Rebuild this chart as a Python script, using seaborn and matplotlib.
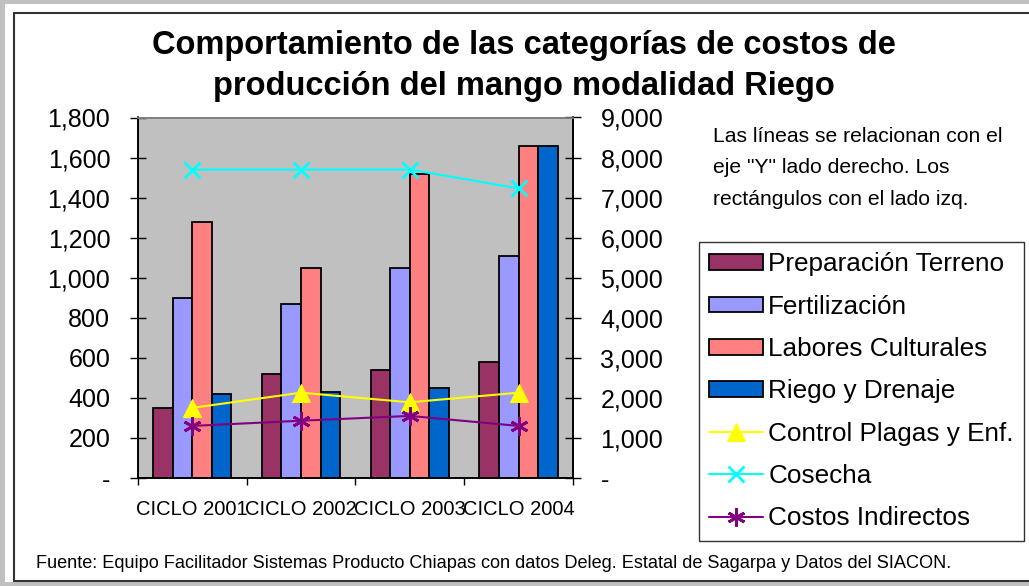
import numpy as np
import pandas as pd
import matplotlib
matplotlib.use("Agg")
import matplotlib.pyplot as plt
import seaborn as sns
from matplotlib.patches import Rectangle, Patch
from matplotlib.ticker import FixedLocator, FixedFormatter

# Datos del gráfico
ciclos = ['CICLO 2001', 'CICLO 2002', 'CICLO 2003', 'CICLO 2004']
preparacion = [350, 520, 540, 580]
fertilizacion = [900, 870, 1050, 1110]
labores = [1280, 1050, 1520, 1660]
riego = [420, 430, 450, 1660]
control_plagas = [1750, 2130, 1890, 2130]
cosecha = [7700, 7700, 7700, 7230]
indirectos = [1300, 1430, 1550, 1300]

bar_series = ['Preparación Terreno', 'Fertilización', 'Labores Culturales', 'Riego y Drenaje']
bar_colors = ['#993366', '#9999FF', '#FF8080', '#0066CC']
left_ticks = [0, 200, 400, 600, 800, 1000, 1200, 1400, 1600, 1800]
right_ticks = [0, 1000, 2000, 3000, 4000, 5000, 6000, 7000, 8000, 9000]

sns.set_theme(style="white")
plt.rcParams['font.family'] = ['Liberation Sans', 'DejaVu Sans']
plt.rcParams['text.color'] = 'black'
plt.rcParams['xtick.color'] = 'black'
plt.rcParams['ytick.color'] = 'black'

df = pd.DataFrame({
    'Ciclo': ciclos * 4,
    'Serie': [s for s in bar_series for _ in ciclos],
    'Valor': preparacion + fertilizacion + labores + riego,
})

fig = plt.figure(figsize=(10.29, 5.86), dpi=100, facecolor='#c0c0c0')
W, H = 1029, 586

# marco exterior
fig.patches.append(Rectangle((5 / W, 4 / H), 1, 578 / H, transform=fig.transFigure,
                             facecolor='white', edgecolor='none', zorder=-2))
fig.patches.append(Rectangle((14 / W, 5 / H), 1.1, 568 / H, transform=fig.transFigure,
                             facecolor='white', edgecolor='#333333', linewidth=1.5, zorder=-1))

ax = fig.add_axes([137.7 / W, 108 / H, 435.3 / W, 360.5 / H])
ax.set_facecolor('#c0c0c0')

sns.barplot(data=df, x='Ciclo', y='Valor', hue='Serie', palette=bar_colors,
            saturation=1, width=0.72, edgecolor='black', linewidth=1.3, ax=ax)
bar_handles = [Patch(facecolor=c, edgecolor='black', linewidth=1.3) for c in bar_colors]
if ax.get_legend() is not None:
    ax.get_legend().remove()

ax.set_ylim(0, 1800)
ax.set_xlim(-0.5, 3.5)
ax.set_xlabel('')
ax.set_ylabel('')
ax.yaxis.set_major_locator(FixedLocator(left_ticks))
ax.yaxis.set_major_formatter(FixedFormatter(['-' if v == 0 else f'{v:,}' for v in left_ticks]))
ax.tick_params(axis='y', direction='inout', length=11.5, width=1, color='black',
               labelsize=18, pad=14, left=True, right=False)
ax.xaxis.set_minor_locator(FixedLocator([-0.5, 0.5, 1.5, 2.5, 3.5]))
ax.tick_params(axis='x', which='major', length=0, labelsize=14.5, pad=16)
ax.tick_params(axis='x', which='minor', direction='out', length=5, width=1,
               color='black', bottom=True)

# líneas eje derecho
ax2 = ax.twinx()
xpos = np.arange(len(ciclos))
sns.lineplot(x=xpos, y=control_plagas, ax=ax2, color='#FFFF00', marker='^',
             markersize=13, markeredgecolor='#FFFF00', linewidth=1.5, label='Control Plagas y Enf.')
sns.lineplot(x=xpos, y=cosecha, ax=ax2, color='#00FFFF', marker='x',
             markersize=12, markeredgecolor='#00FFFF', markeredgewidth=2, linewidth=1.5, label='Cosecha')
sns.lineplot(x=xpos, y=indirectos, ax=ax2, color='#800080', marker=(6, 2, 0),
             markersize=13, markeredgecolor='#800080', markeredgewidth=2, linewidth=1.5,
             label='Costos Indirectos')
line_handles, line_labels = ax2.get_legend_handles_labels()
if ax2.get_legend() is not None:
    ax2.get_legend().remove()

ax2.set_ylim(0, 9000)
ax2.set_xlim(-0.5, 3.5)
ax2.yaxis.set_major_locator(FixedLocator(right_ticks))
ax2.yaxis.set_major_formatter(FixedFormatter(['-' if v == 0 else f'{v:,}' for v in right_ticks]))
ax2.tick_params(axis='y', direction='inout', length=11.5, width=1, color='black',
                labelsize=18, pad=14, right=True, left=False)

for a in (ax, ax2):
    for side in ('left', 'right', 'bottom'):
        a.spines[side].set_color('black')
        a.spines[side].set_linewidth(1.2)
    a.spines['top'].set_color('#808080')
    a.spines['top'].set_linewidth(1.2)

# título
fig.text(524 / W, 1 - 66 / H, 'Comportamiento de las categorías de costos de\nproducción del mango modalidad Riego',
         ha='center', va='center', fontsize=23.5, fontweight='bold', linespacing=1.38)

fig.text(713 / W, 1 - 127 / H, 'Las líneas se relacionan con el\neje "Y" lado derecho. Los\nrectángulos con el lado izq.',
         ha='left', va='top', fontsize=15.2, linespacing=1.82)

leg = fig.legend(bar_handles + line_handles, bar_series + line_labels,
                 loc='upper left', bbox_to_anchor=(699 / W, 1 - 242 / H),
                 fontsize=18.8, frameon=True, fancybox=False, edgecolor='black',
                 handlelength=2.05, handleheight=0.55, handletextpad=0.2,
                 labelspacing=0.7, borderpad=0.4, borderaxespad=0)
leg.get_frame().set_linewidth(1)

fig.text(36 / W, 1 - 563 / H,
         'Fuente: Equipo Facilitador Sistemas Producto Chiapas con datos Deleg. Estatal de Sagarpa y Datos del SIACON.',
         ha='left', va='center', fontsize=13.1)

fig.savefig('out.png', dpi=100, facecolor=fig.get_facecolor())
